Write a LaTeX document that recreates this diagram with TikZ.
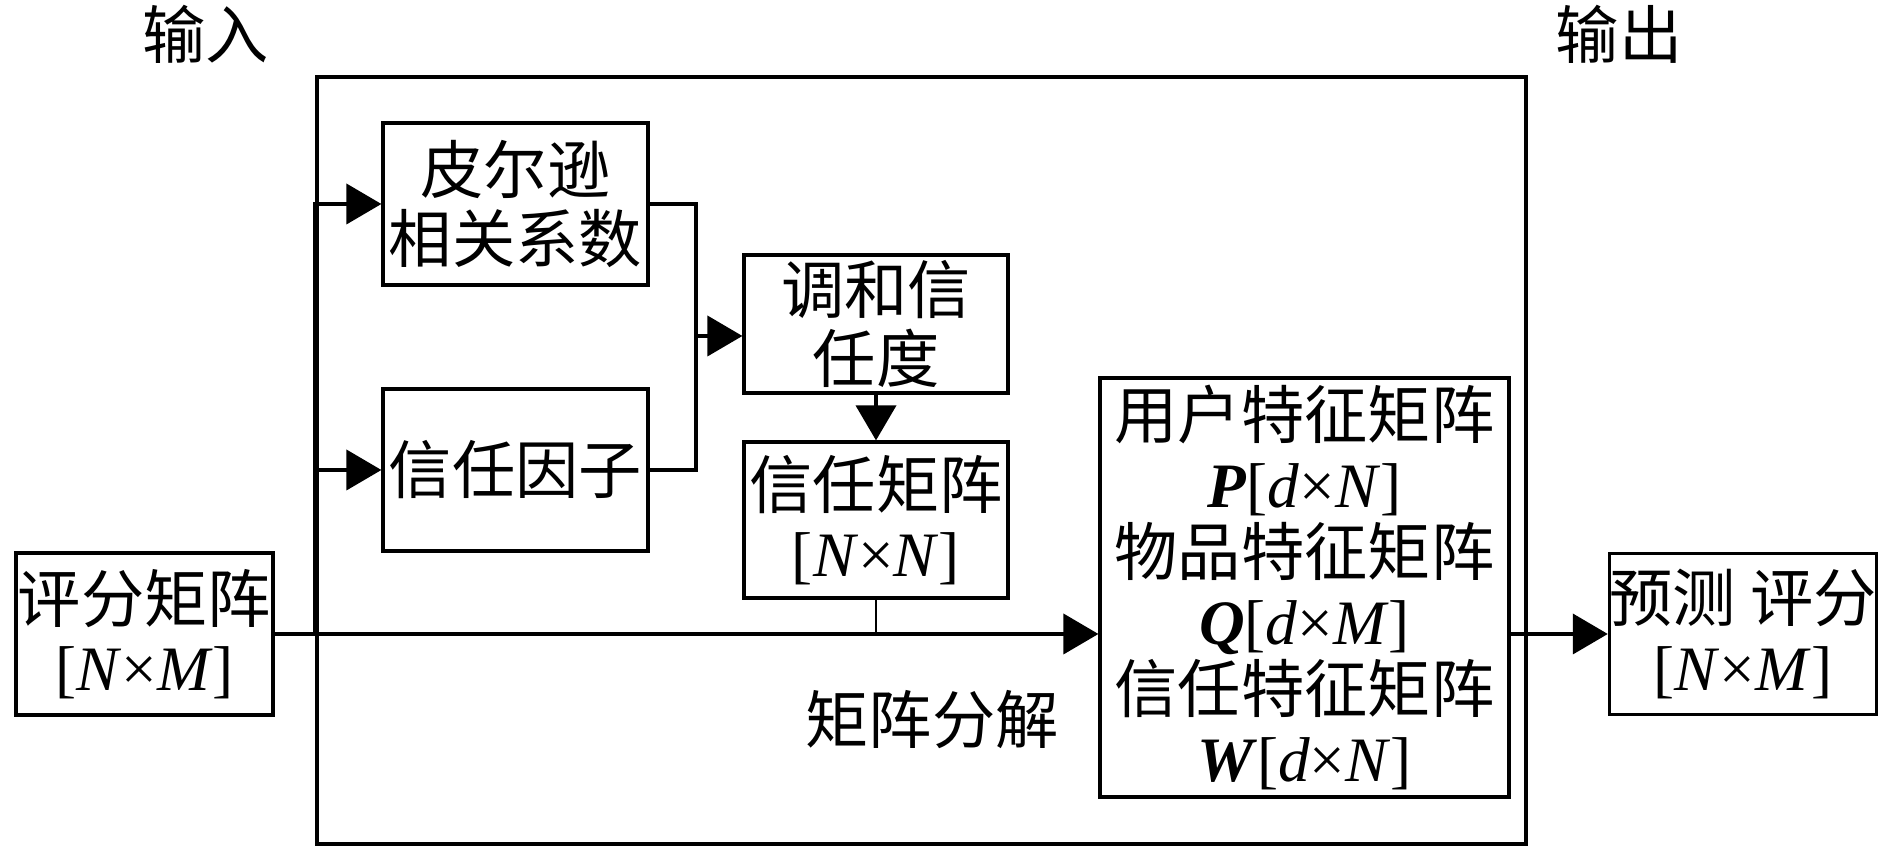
\documentclass[tikz,border=0pt]{standalone}
\usepackage{fontspec}
\setmainfont{Liberation Serif}
\newfontfamily\cjk{Noto Sans CJK SC}
\usepackage{tikz}
\usetikzlibrary{arrows.meta, calc}
\tikzset{
	% Boxes of the flow chart
	block/.style={draw, line width=0.9pt, align=center, inner sep=0pt,
		font=\cjk\fontsize{18}{19.5}\selectfont},
	% Plain texts
	caption/.style={font=\cjk\fontsize{18}{20}\selectfont},
	% Connectors
	link/.style={draw, line width=1.1pt},
	flow/.style={link, -{Triangle[length=0.35cm, width=0.40cm]}},
	tap/.style={draw, line width=0.7pt}
}
\newcommand{\matsize}[2]{\rmfamily[\textit{#1}×\textit{#2}]}

\begin{document}
\begin{tikzpicture}[x=1cm, y=1cm]
	\useasboundingbox (0,0) rectangle (18.9,8.55);
	% Frame of the method
	\node[block, minimum width=12.09cm, minimum height=7.67cm] (frame) at (9.215, 3.945) {};
	% Input and output
	\node[block, minimum width=2.57cm, minimum height=1.62cm] (rating) at (1.445, 2.21) {评分矩阵\\\matsize{N}{M}};
	\node[block, minimum width=2.64cm, minimum height=1.61cm] (predict) at (17.43, 2.21) {预测 评分\\\matsize{N}{M}};
	% Trust part
	\node[block, minimum width=2.65cm, minimum height=1.62cm] (pearson) at (5.155, 6.51) {皮尔逊\\相关系数};
	\node[block, minimum width=2.65cm, minimum height=1.62cm] (factor) at (5.155, 3.85) {信任因子};
	\node[block, minimum width=2.64cm, minimum height=1.38cm] (harmonic) at (8.76, 5.31) {调和信\\任度};
	\node[block, minimum width=2.64cm, minimum height=1.56cm] (trustmat) at (8.76, 3.35) {信任矩阵\\\matsize{N}{N}};
	% Result of the factorisation
	\node[block, minimum width=4.09cm, minimum height=4.19cm] (latent) at (13.045, 2.675) {%
		用户特征矩阵\\{\rmfamily\textbf{\textit{P}}[\textit{d}×\textit{N}]}\\
		物品特征矩阵\\{\rmfamily\textbf{\textit{Q}}[\textit{d}×\textit{M}]}\\
		信任特征矩阵\\{\rmfamily\textbf{\textit{W}}[\textit{d}×\textit{N}]}};
	% Labels
	\node[caption] (inlabel) at (2.06, 8.21) {输入};
	\node[caption] (outlabel) at (16.19, 8.21) {输出};
	\node[caption] (mflabel) at (9.32, 1.35) {矩阵分解};
	% Connectors
	\coordinate (split) at (rating.east -| frame.west);
	\coordinate (merge) at (6.96, 5.19);
	\path[flow] (rating.east) -- (rating.east -| latent.west);
	\path[flow] (split) |- (pearson.west);
	\path[flow] (split) |- (factor.west);
	\path[link] (pearson.east) -| (merge) |- (factor.east);
	\path[flow] (merge) -- (merge -| harmonic.west);
	\path[flow] (harmonic.south) -- (trustmat.north);
	\path[tap] (trustmat.south) -- (trustmat.south |- rating.east);
	\path[flow] (rating.east -| latent.east) -- (predict.west);
\end{tikzpicture}
\end{document}
